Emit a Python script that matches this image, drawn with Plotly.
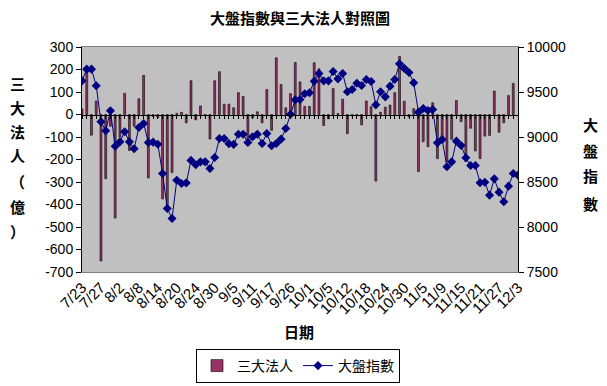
import plotly.graph_objects as go

# tick labels shown on the category axis (every 4th trading day)
date_labels = ["7/23", "7/27", "8/2", "8/8", "8/14", "8/20", "8/24", "8/30", "9/5", "9/11",
               "9/17", "9/26", "10/1", "10/5", "10/12", "10/18", "10/24", "10/30", "11/5",
               "11/9", "11/15", "11/21", "11/27", "12/3"]

# 三大法人 net buy/sell (億)
inst_values = [25, 195, -92, 60, -651, -285, -52, -460, -100, 94,
               -160, -52, 70, 174, -282, -9, -14, -375, -410, -258,
               5, 10, -37, 150, -24, 38, -5, -109, 150, 190,
               46, 46, 30, 97, 80, -112, -14, 12, -37, 111,
               -70, 252, 133, 30, 93, 231, 145, 36, 36, 230,
               203, -49, -19, 115, 4, 68, -85, -6, -6, -46,
               60, 35, -296, 10, 33, 42, 97, 258, 59, -11,
               26, -253, -121, -143, 52, -196, -109, -209, -110, 62,
               -32, -209, -61, -162, -196, -96, -93, 104, -79, -37,
               84, 138, None]

# 大盤指數
index_values = [9624, 9754, 9754, 9569, 9169, 9069, 9291, 8898, 8946, 9058,
                8946, 8869, 9106, 9150, 8939, 8943, 8920, 8594, 8206, 8094,
                8520, 8483, 8490, 8740, 8691, 8724, 8724, 8650, 8772, 8983,
                8983, 8926, 8918, 9031, 9031, 8939, 9002, 9031, 8928, 9039,
                8902, 8928, 8976, 9094, 9252, 9413, 9417, 9480, 9491, 9620,
                9706, 9624, 9624, 9728, 9646, 9706, 9502, 9528, 9598, 9572,
                9639, 9617, 9357, 9502, 9446, 9565, 9639, 9813, 9763, 9716,
                9602, 9276, 9317, 9294, 9306, 8935, 8972, 8669, 8724, 8954,
                8906, 8769, 8683, 8683, 8491, 8498, 8354, 8535, 8387, 8280,
                8454, 8594, 8576]

left_ticks = [300, 200, 100, 0, -100, -200, -300, -400, -500, -600, -700]
right_ticks = [10000, 9500, 9000, 8500, 8000, 7500]

x_idx = list(range(len(index_values)))
label_pos = list(range(0, 4 * len(date_labels), 4))

W, H = 607, 386
L, R, T, B = 82, 89, 47, 114
pw, ph = W - L - R, H - T - B

def px(x):
    return (x - L) / pw

def py(y):
    return (H - B - y) / ph

fig = go.Figure()
fig.add_trace(go.Bar(
    x=x_idx, y=inst_values, name="三大法人",
    marker=dict(color="#993366", line=dict(color="#000000", width=0.6)),
    yaxis="y",
))
fig.add_trace(go.Scatter(
    x=x_idx, y=index_values, name="大盤指數", mode="lines+markers",
    line=dict(color="#000080", width=1),
    marker=dict(symbol="diamond", size=7, color="#000080"),
    yaxis="y2",
))
# invisible helper trace for the category tick marks along the zero line
fig.add_trace(go.Scatter(x=[0], y=[0], xaxis="x2", yaxis="y", mode="markers",
                         marker=dict(opacity=0), showlegend=False, hoverinfo="skip"))

tick_font = dict(family="Liberation Sans, Arial", size=14, color="black")
cjk = "Noto Sans CJK TC"

fig.update_layout(
    width=W, height=H,
    margin=dict(l=L, r=R, t=T, b=B, pad=0, autoexpand=False),
    paper_bgcolor="white",
    plot_bgcolor="#C0C0C0",
    bargap=0.6,
    showlegend=True,
    legend=dict(orientation="h", x=px(298), xanchor="center", y=py(349), yanchor="top",
                font=dict(family=cjk, size=14, color="black"),
                bordercolor="black", borderwidth=1, bgcolor="white",
                tracegroupgap=0),
    xaxis=dict(range=[0, len(index_values) - 1], tickmode="array",
               tickvals=label_pos, ticktext=date_labels, tickangle=-45,
               tickfont=dict(family="Liberation Sans, Arial", size=15, color="black"),
               showgrid=False, zeroline=False, showline=True, linecolor="#808080",
               linewidth=1, mirror=True, ticks="", automargin=False),
    xaxis2=dict(overlaying="x", matches="x", anchor="free", position=py(114.5),
                showline=True, linecolor="black", linewidth=1,
                tickmode="linear", tick0=0, dtick=1, ticks="outside", ticklen=3,
                tickcolor="black", showticklabels=False, showgrid=False, zeroline=False,
                automargin=False),
    yaxis=dict(range=[-700, 300], tickmode="array", tickvals=left_ticks,
               ticktext=[str(v) for v in left_ticks], tickfont=tick_font, ticks="outside",
               ticklen=5, tickcolor="black", showline=True, linecolor="black",
               linewidth=1, showgrid=False, zeroline=False, automargin=False),
    yaxis2=dict(range=[7500, 10000], tickmode="array", tickvals=right_ticks,
                ticktext=[str(v) for v in right_ticks], tickfont=tick_font, overlaying="y",
                side="right", ticks="outside", ticklen=5, tickcolor="black",
                showline=True, linecolor="black", linewidth=1, showgrid=False,
                zeroline=False, automargin=False),
)

def label(text, x, y):
    fig.add_annotation(text="<b>" + text + "</b>", xref="paper", yref="paper",
                       x=px(x), y=py(y), xanchor="center", yanchor="middle",
                       showarrow=False, font=dict(family=cjk, size=15, color="black"))

label("大盤指數與三大法人對照圖", 300, 17)
label("日期", 299, 331)

left_chars = ["三", "大", "法", "人", "（", "億", "）"]
left_y = [84, 107, 131, 155, 181, 206, 231]
for ch, yy in zip(left_chars, left_y):
    label(ch, 17, yy)

right_chars = ["大", "盤", "指", "數"]
right_y = [124, 150, 176, 203]
for ch, yy in zip(right_chars, right_y):
    label(ch, 590, yy)

fig.write_html("out.html", config={"displayModeBar": False},
               post_script="document.body.style.margin='0px';"
                           "document.body.style.overflow='hidden';")
